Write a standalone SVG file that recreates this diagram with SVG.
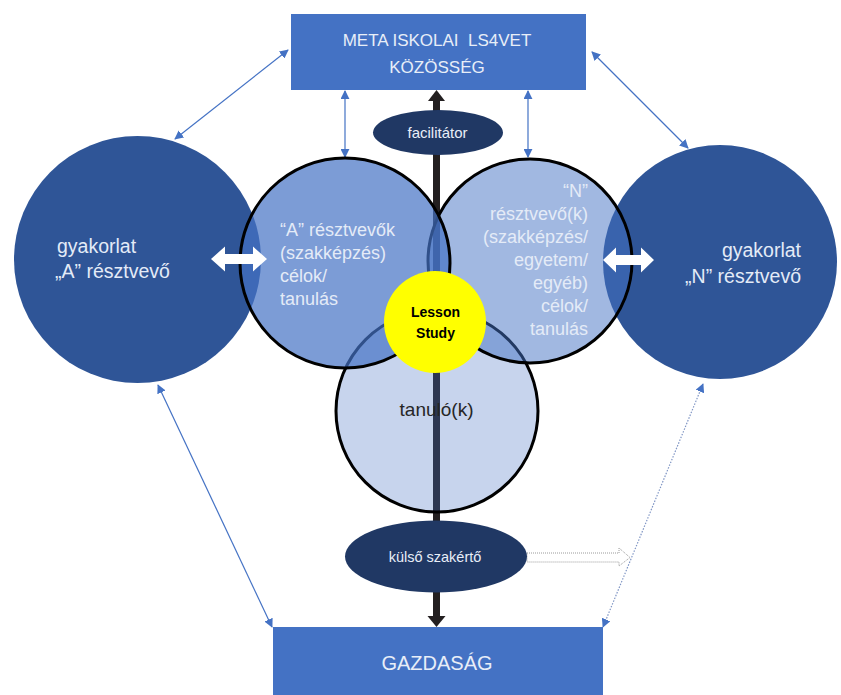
<svg xmlns="http://www.w3.org/2000/svg" width="841" height="695" viewBox="0 0 841 695">
<style>
text{font-family:"Liberation Sans",Arial,sans-serif}
.thin{stroke:#4472C4;stroke-width:1.2;fill:none;marker-start:url(#ah);marker-end:url(#ah)}
.dot{stroke-dasharray:1.5 1.5;stroke:#7f95c4}
.box{fill:#4472C4}
.side{fill:#2F5597}
.ring{fill:#4472C4;stroke:#000;stroke-width:3}
.wt{fill:#e4ebf7;font-size:18px}
.st{fill:#e4ebf7;font-size:19.5px}
.dark{fill:#203864}
</style>
<defs>
<marker id="ah" viewBox="0 0 10 10" refX="9" refY="5" markerWidth="9" markerHeight="9" markerUnits="userSpaceOnUse" orient="auto-start-reverse">
<path d="M0,0 L10,5 L0,10 z" fill="#4472C4"/>
</marker>
</defs>

<g id="connectors">
<line class="thin" x1="175" y1="139" x2="288" y2="50"/>
<line class="thin" x1="592" y1="52" x2="688" y2="148"/>
<line class="thin" x1="345" y1="91" x2="345" y2="157"/>
<line class="thin" x1="528" y1="91" x2="528" y2="157"/>
<line class="thin" x1="158" y1="385" x2="272" y2="627"/>
<line class="thin dot" x1="703" y1="384" x2="603" y2="627"/>
</g>

<g id="gyakorlat-a">
<circle class="side" cx="137.5" cy="259.5" r="123.5"/>
</g>
<g id="gyakorlat-n">
<circle class="side" cx="720" cy="262" r="117"/>
</g>

<g id="main-axis">
<rect x="433" y="99" width="7" height="519" fill="#231F20"/>
<polygon points="436.5,90 428,101 445,101" fill="#231F20"/>
<polygon points="436.5,627 427.5,616 445.5,616" fill="#231F20"/>
</g>

<g id="tanulo">
<circle class="ring" cx="437" cy="411" r="101" fill-opacity="0.3"/>
</g>
<g id="n-resztvevo">
<circle class="ring" cx="530" cy="261" r="102" fill-opacity="0.5"/>
</g>
<g id="a-resztvevo">
<circle class="ring" cx="345" cy="263" r="105" fill-opacity="0.7"/>
</g>

<g id="lesson-study">
<circle cx="435" cy="322" r="51" fill="#FFFF00"/>
<text x="435.5" y="316.5" font-size="14" font-weight="bold" text-anchor="middle" fill="#000">Lesson</text>
<text x="435.5" y="337.5" font-size="14" font-weight="bold" text-anchor="middle" fill="#000">Study</text>
</g>

<g id="texts">
<text class="st" x="57" y="253">gyakorlat</text>
<text class="st" x="55" y="278">„A” résztvevő</text>
<text class="st" x="801" y="257" text-anchor="end">gyakorlat</text>
<text class="st" x="801" y="283" text-anchor="end">„N” résztvevő</text>

<text class="wt" x="280" y="236">“A” résztvevők</text>
<text class="wt" x="280" y="259">(szakképzés)</text>
<text class="wt" x="280" y="282">célok/</text>
<text class="wt" x="280" y="305">tanulás</text>

<g text-anchor="end">
<text class="wt" x="588" y="197">“N”</text>
<text class="wt" x="588" y="220">résztvevő(k)</text>
<text class="wt" x="588" y="243">(szakképzés/</text>
<text class="wt" x="588" y="266">egyetem/</text>
<text class="wt" x="588" y="289">egyéb)</text>
<text class="wt" x="588" y="312">célok/</text>
<text class="wt" x="588" y="335">tanulás</text>
</g>

<text x="436.5" y="416" font-size="19" text-anchor="middle" fill="#262626">tanuló(k)</text>
</g>

<g id="white-arrows" fill="#ffffff">
<polygon points="211,259 225,246.5 225,254 253,254 253,246.5 267,259 253,271.5 253,264 225,264 225,271.5"/>
<polygon points="603,260 616,247.5 616,255 641,255 641,247.5 654,260 641,272.5 641,265 616,265 616,272.5"/>
</g>

<g id="facilitator">
<ellipse class="dark" cx="438" cy="132.5" rx="65" ry="22.5"/>
<text x="437.5" y="137.5" font-size="15" text-anchor="middle" fill="#e8eef8">facilitátor</text>
</g>

<g id="kulso-szakerto">
<polygon points="527,553 619,553 619,548 630,557.5 619,566 619,562 527,562" fill="#fff" stroke="#9a9a9a" stroke-width="1" stroke-dasharray="1 1"/>
<ellipse class="dark" cx="436" cy="556.5" rx="91" ry="36"/>
<text x="435" y="561.5" font-size="14.5" text-anchor="middle" fill="#e8eef8">külső szakértő</text>
</g>

<g id="meta-kozosseg">
<rect class="box" x="291" y="14" width="295" height="76"/>
<text x="437" y="46" font-size="17" text-anchor="middle" fill="#e8eef8" xml:space="preserve">META ISKOLAI  LS4VET</text>
<text x="437" y="73" font-size="17" text-anchor="middle" fill="#e8eef8">KÖZÖSSÉG</text>
</g>

<g id="gazdasag">
<rect class="box" x="273" y="627" width="330" height="70"/>
<text x="437" y="670" font-size="20" text-anchor="middle" fill="#e8eef8">GAZDASÁG</text>
</g>
</svg>
